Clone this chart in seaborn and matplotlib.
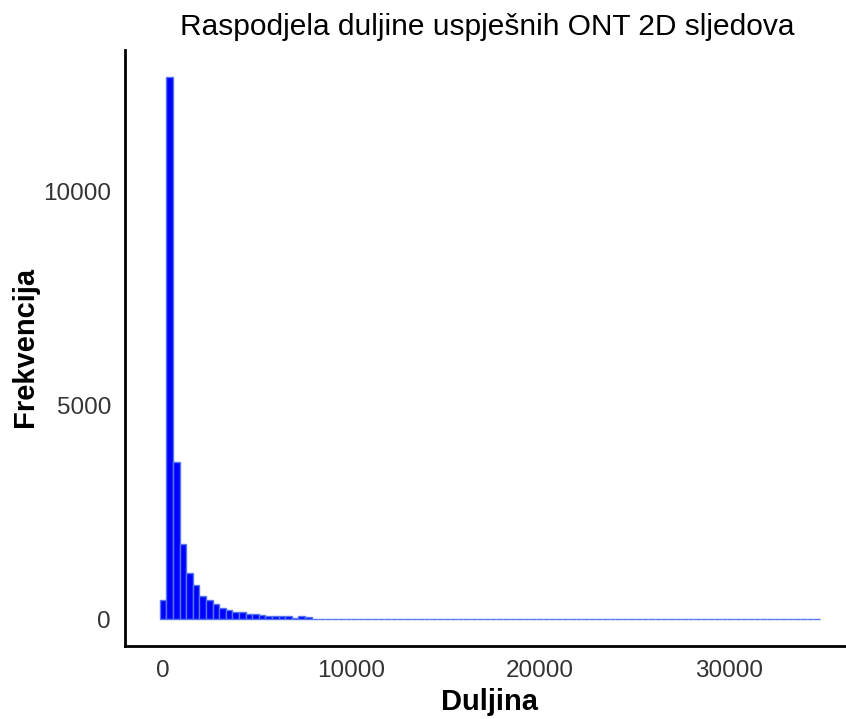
import numpy as np
import pandas as pd
import matplotlib
matplotlib.use('Agg')
import matplotlib.pyplot as plt
import seaborn as sns

# histogram bins of read length (bin width and first bin centre)
bin_width = 350
first_center = 0
# counts per bin (100 bins)
counts = [451, 12687, 3670, 1750, 1075, 794, 545, 451, 358, 265,
          218, 171, 171, 125, 125, 90, 80, 75, 62, 60,
          35, 60, 58, 9, 7, 6, 5, 4, 4, 3,
          3, 2, 2, 2, 1, 1, 1, 1, 1, 0,
          1, 0, 1, 0, 0, 1, 0, 0, 0, 0,
          0, 0, 0, 0, 0, 0, 0, 0, 0, 0,
          0, 0, 0, 0, 0, 0, 0, 0, 0, 0,
          0, 0, 0, 0, 0, 0, 0, 0, 0, 0,
          0, 0, 0, 0, 0, 0, 0, 0, 0, 0,
          0, 0, 0, 0, 0, 0, 0, 0, 0, 1]
x_ticks = [0, 10000, 20000, 30000]
y_ticks = [0, 5000, 10000]

centers = first_center + bin_width * np.arange(len(counts))
df = pd.DataFrame({'duljina': centers, 'n': counts})

sns.set_style('white')
plt.rcParams['font.family'] = ['Liberation Sans', 'DejaVu Sans']

fig = plt.figure(figsize=(8.46, 7.19), dpi=100)
ax = fig.add_axes([125/846, (719-646)/719, (846-125)/846, (646-50)/719])

sns.histplot(data=df, x='duljina', weights='n',
             binwidth=bin_width,
             binrange=(first_center - bin_width/2, centers[-1] + bin_width/2),
             color='#0000FF', edgecolor='#5577ee', linewidth=1.0, alpha=1,
             ax=ax)

ax.set_xlim(-2015, 36214)
ax.set_ylim(-631, 13318)
ax.set_xticks(x_ticks)
ax.set_yticks(y_ticks)
ax.tick_params(axis='both', labelsize=17.5, colors='black', labelcolor='#333333',
               length=6, width=1.2, direction='out', pad=4)
for s in ['top', 'right']:
    ax.spines[s].set_visible(False)
for s in ['left', 'bottom']:
    ax.spines[s].set_color('black')
    ax.spines[s].set_linewidth(2)

ax.set_xlabel('Duljina', fontsize=21, fontweight='bold', color='black', va='center')
ax.xaxis.set_label_coords(0.505, -0.094)
ax.set_ylabel('Frekvencija', fontsize=21, fontweight='bold', color='black', va='center')
ax.yaxis.set_label_coords(-0.139, 0.502)
ax.set_title('Raspodjela duljine uspješnih ONT 2D sljedova', fontsize=21.5,
             color='black', x=0.502, y=1.025, va='center')

fig.savefig('out.png', dpi=100)
